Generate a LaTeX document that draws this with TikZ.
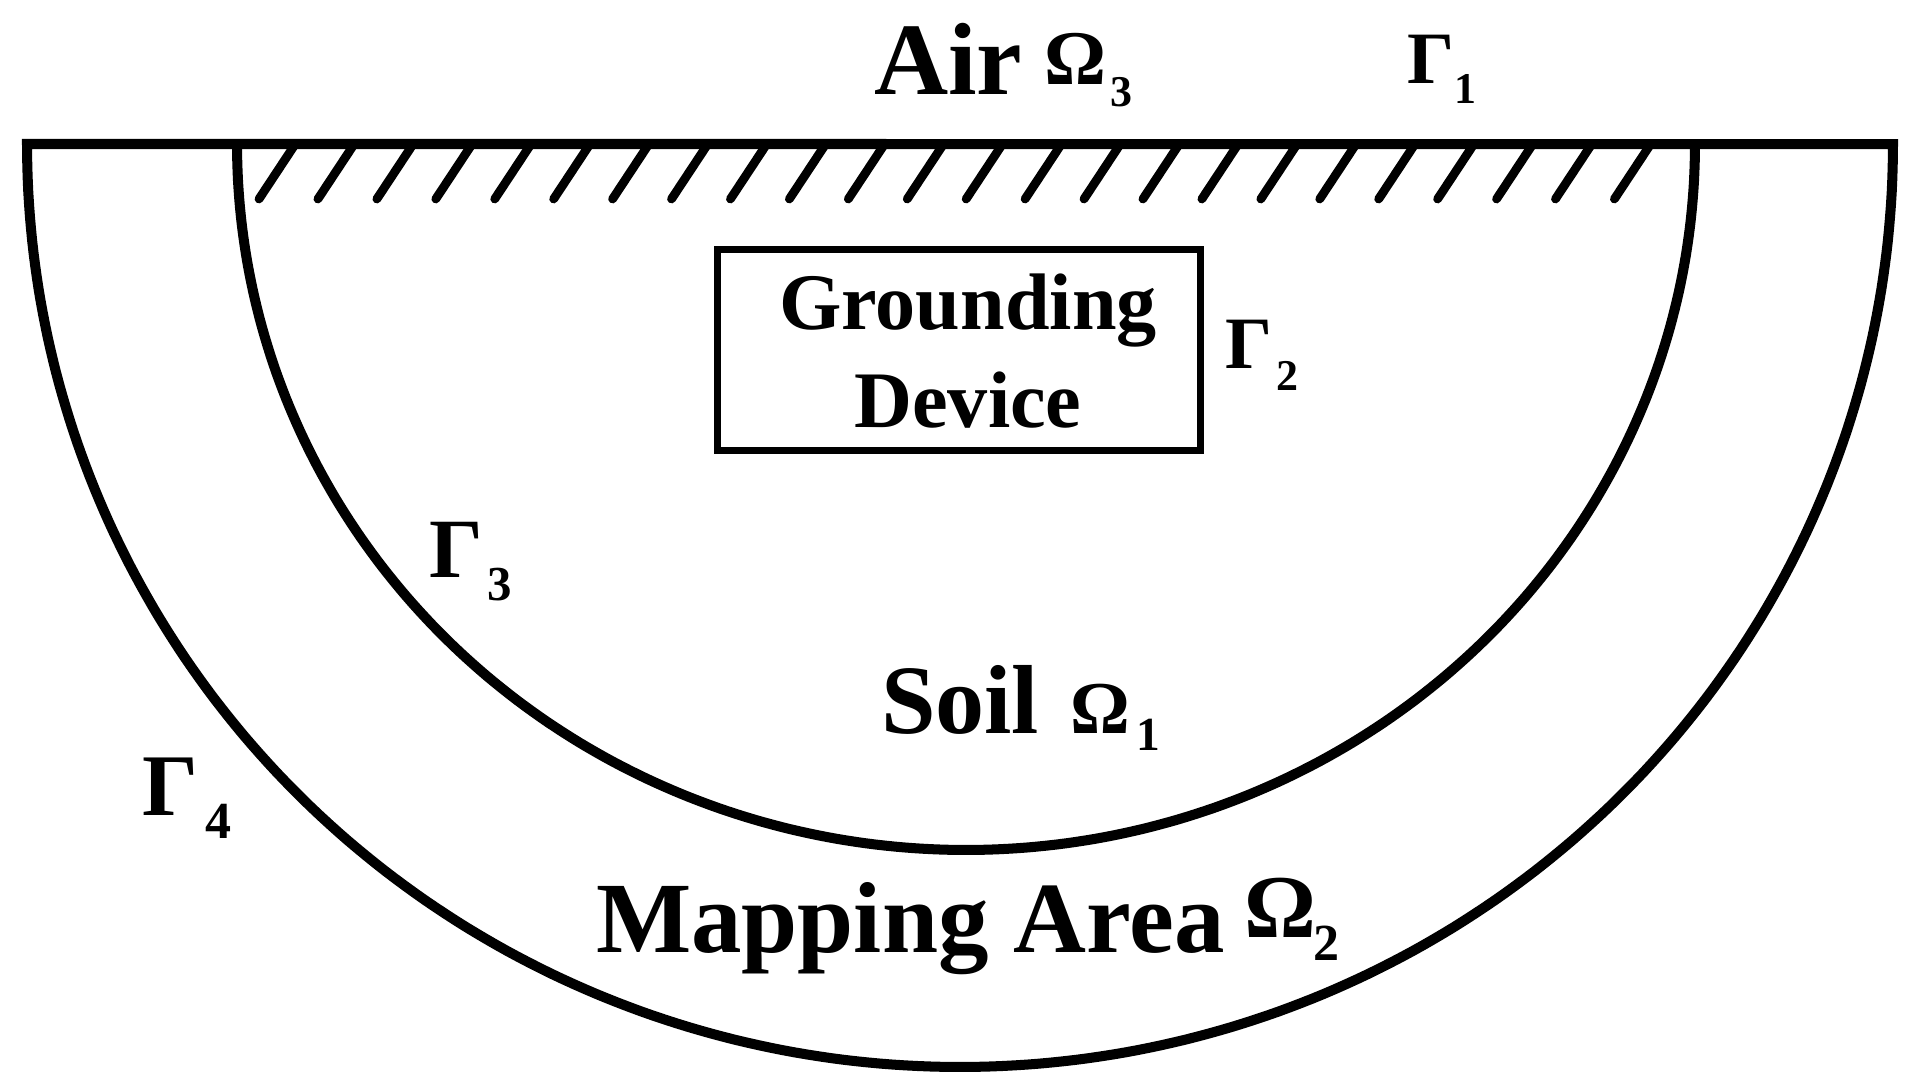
\documentclass[tikz,border=0pt]{standalone}
\usepackage{fontspec}
\setmainfont{Liberation Serif}
\begin{document}
\begin{tikzpicture}[x=0.01cm,y=-0.01cm,
  lbl/.style={inner sep=0pt,outer sep=0pt,anchor=base west,font=\bfseries},
  thick line/.style={line width=2.85pt,line join=miter},
  hatchline/.style={line width=2.5pt,line cap=round},
  boxstyle/.style={draw,line width=2pt,minimum width=4.82cm,minimum height=2.0cm,inner sep=0pt}]
\useasboundingbox (0,0) rectangle (1921,1091);
% outer semicircle with top line
\draw[thick line] plot[domain=180:360,samples=240] ({960+933*cos(\x)},{144-923*sin(\x)}) -- cycle;
% inner semicircle
\draw[thick line] plot[domain=180:360,samples=240] ({966+729*cos(\x)},{144-706*sin(\x)});
% hatching
\foreach \i in {0,...,23}{
  \draw[hatchline] ({259+58.93*\i},199) -- ({294+58.93*\i},146);
}
% grounding device box
\node[boxstyle] (box) at (959,350) {};
\node[inner sep=0pt,anchor=base] (grounding) at (968,329) {\fontsize{22.8pt}{24pt}\selectfont\bfseries Grounding};
\node[inner sep=0pt,anchor=base] (device) at (968,427) {\fontsize{22.8pt}{24pt}\selectfont\bfseries Device};
% Air Omega3
\node[lbl] (air) at (874,95) {\fontsize{29.2pt}{30pt}\selectfont Air};
\node[lbl] (om3) at (1044,85) {\fontsize{22pt}{24pt}\selectfont Ω};
\node[lbl] (om3s) at (1110,107) {\fontsize{12.5pt}{14pt}\selectfont 3};
% Gamma1
\node[lbl] (g1) at (1407,84) {\fontsize{21pt}{23pt}\selectfont Γ};
\node[lbl] (g1s) at (1454,104) {\fontsize{12.5pt}{14pt}\selectfont 1};
% Gamma2
\node[lbl] (g2) at (1225,368) {\fontsize{21pt}{23pt}\selectfont Γ};
\node[lbl] (g2s) at (1276,390) {\fontsize{12.5pt}{14pt}\selectfont 2};
% Gamma3
\node[lbl] (g3) at (429,577) {\fontsize{24pt}{26pt}\selectfont Γ};
\node[lbl] (g3s) at (487,600) {\fontsize{13.9pt}{15pt}\selectfont 3};
% Gamma4
\node[lbl] (g4) at (142,815) {\fontsize{25pt}{27pt}\selectfont Γ};
\node[lbl] (g4s) at (205,838) {\fontsize{14.8pt}{16pt}\selectfont 4};
% Soil Omega1
\node[lbl] (soil) at (881,733) {\fontsize{27.9pt}{29pt}\selectfont Soil};
\node[lbl] (om1) at (1070,733) {\fontsize{21.2pt}{23pt}\selectfont Ω};
\node[lbl] (om1s) at (1136,750) {\fontsize{13.5pt}{15pt}\selectfont 1};
% Mapping Area Omega2
\node[lbl] (map) at (596,952) {\fontsize{28.7pt}{30pt}\selectfont Mapping Area};
\node[lbl] (om2) at (1244,937) {\fontsize{25.5pt}{28pt}\selectfont Ω};
\node[lbl] (om2s) at (1313,960) {\fontsize{14.8pt}{16pt}\selectfont 2};
\end{tikzpicture}
\end{document}
